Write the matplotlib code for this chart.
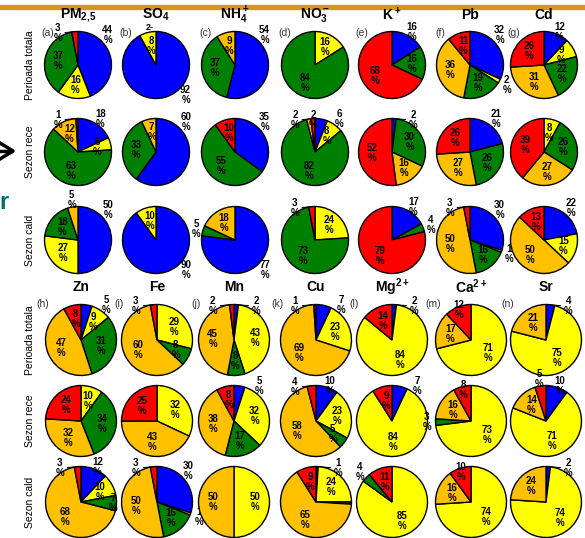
import numpy as np
import matplotlib.pyplot as plt

plt.rcParams['font.family'] = ['Liberation Sans', 'DejaVu Sans']
plt.rcParams['mathtext.fontset'] = 'custom'
plt.rcParams['mathtext.rm'] = 'Liberation Sans'
plt.rcParams['mathtext.bf'] = 'Liberation Sans:bold'
plt.rcParams['mathtext.default'] = 'bf'

W, H = 585, 538

# ordinea feliilor (sens orar de la ora 12): albastru, galben, verde, portocaliu, rosu
colors = ['#0000FF', '#FFFF00', '#008000', '#FFC000', '#FF0000']
rows = ['Perioada totala', 'Sezon rece', 'Sezon cald']

# --blocul de sus--
top_titles = ['PM$_{2{,}5}$', 'SO$_4$', 'NH$_4^+$', 'NO$_3^-$', 'K$^+$', 'Pb', 'Cd']
top_letters = ['(a)', '(b)', '(c)', '(d)', '(e)', '(f)', '(g)']
pm25 = [[44, 16, 37, 0, 3], [18, 6, 63, 12, 1], [50, 27, 18, 5, 0]]
so4 = [[92, 8, 0, 0, 0], [60, 0, 33, 7, 0], [90, 10, 0, 0, 0]]
nh4 = [[54, 0, 37, 9, 0], [35, 0, 55, 0, 10], [77, 0, 5, 18, 0]]
no3 = [[0, 16, 84, 0, 0], [6, 8, 82, 2, 2], [0, 24, 73, 0, 3]]
k = [[16, 0, 16, 0, 68], [2, 0, 30, 16, 52], [17, 0, 4, 0, 79]]
pb = [[32, 2, 19, 36, 11], [21, 0, 26, 27, 26], [30, 1, 16, 50, 3]]
cd = [[12, 9, 22, 31, 26], [0, 8, 26, 27, 39], [22, 15, 0, 50, 13]]
top_data = [pm25, so4, nh4, no3, k, pb, cd]

# --blocul de jos--
bot_titles = ['Zn', 'Fe', 'Mn', 'Cu', 'Mg$^{2+}$', 'Ca$^{2+}$', 'Sr']
bot_letters = ['(h)', '(i)', '(j)', '(k)', '(l)', '(m)', '(n)']
zn = [[5, 9, 31, 47, 8], [0, 10, 34, 32, 24], [12, 10, 7, 68, 3]]
fe = [[0, 29, 8, 60, 3], [0, 32, 0, 43, 25], [30, 1, 16, 50, 3]]
mn = [[2, 43, 8, 45, 2], [5, 32, 17, 38, 8], [0, 50, 0, 50, 0]]
cu = [[7, 23, 0, 69, 1], [10, 23, 5, 58, 4], [1, 24, 1, 65, 9]]
mg = [[2, 84, 0, 0, 14], [7, 84, 0, 0, 9], [0, 85, 4, 0, 11]]
ca = [[0, 71, 0, 17, 12], [0, 73, 3, 16, 8], [0, 74, 0, 16, 10]]
sr = [[4, 75, 0, 21, 0], [10, 71, 0, 14, 5], [2, 74, 0, 24, 0]]
bot_data = [zn, fe, mn, cu, mg, ca, sr]

fig = plt.figure(figsize=(W / 100, H / 100), dpi=100)


def fx(x):
    return x / W


def fy(y):
    return 1 - y / H


def draw_pie(cx, cy, r, vals):
    m = 1.6
    ax = fig.add_axes([fx(cx - m * r), fy(cy + m * r), 2 * m * r / W, 2 * m * r / H])
    v = [x for x in vals if x > 0]
    c = [col for x, col in zip(vals, colors) if x > 0]
    idx = [i for i, x in enumerate(vals) if x > 0]
    wedges, _ = ax.pie(v, colors=c, startangle=90, counterclock=False,
                       wedgeprops=dict(edgecolor='black', linewidth=1))
    ax.set_xlim(-m, m)
    ax.set_ylim(-m, m)
    ax.axis('off')
    labels = []
    outs = []
    ins = []
    for w, val, i in zip(wedges, v, idx):
        mid = (w.theta1 + w.theta2) / 2
        if mid > 180:
            mid -= 360
        a = np.deg2rad(mid)
        edge = (np.cos(a), np.sin(a))
        if val < 5:
            ang = np.deg2rad(60) if i == 0 else a
            pos = [1.25 * np.cos(ang), 1.25 * np.sin(ang)]
            if pos[1] > 0.95:
                pos[1] = 0.95
                pos[0] = np.sign(pos[0]) * max(abs(pos[0]), 0.6)
            outs.append(pos)
        elif i == 0:
            # eticheta albastra in afara, sus-dreapta sau jos-dreapta
            if val >= 75:
                ang = -45
            elif val < 10:
                ang = 55
            else:
                ang = max(mid, 45)
            ang = np.deg2rad(ang)
            pos = [1.25 * np.cos(ang), min(1.25 * np.sin(ang), 0.98)]
            outs.append(pos)
            edge = None
        else:
            pos = [0.6 * np.cos(a), 0.6 * np.sin(a)]
            ins.append([pos, a, val])
            edge = None
        labels.append([pos, val, edge])
    # etichete interioare suprapuse: cea mai mica se muta spre margine
    for p, q in zip(ins[:-1], ins[1:]):
        if abs(q[0][0] - p[0][0]) < 0.4 and abs(q[0][1] - p[0][1]) < 0.42:
            s = p if p[2] < q[2] else q
            rr = 0.9 if s[2] >= 6 else 1.2
            s[0][0], s[0][1] = rr * np.cos(s[1]), rr * np.sin(s[1])
    # departeaza etichetele exterioare care se suprapun
    outs.sort(key=lambda p: p[0])
    for p, q in zip(outs[:-1], outs[1:]):
        if abs(q[1] - p[1]) < 0.5 and q[0] - p[0] < 0.55:
            q[0] = p[0] + 0.55
    for pos, val, edge in labels:
        ax.text(pos[0], pos[1], f'{val}\n%', ha='center', va='center',
                fontsize=7, fontweight='bold', linespacing=1.0, clip_on=False)
        if edge is not None:
            d = np.hypot(pos[0] - edge[0], pos[1] - edge[1])
            if d > 0.3:
                t = (d - 0.22) / d
                ex = edge[0] + t * (pos[0] - edge[0])
                ey = edge[1] + t * (pos[1] - edge[1])
                ax.plot([edge[0], ex], [edge[1], ey], color='black', lw=0.7, clip_on=False)
    return ax


xs = [78, 156, 235, 315, 392, 470, 544]

# blocul de sus
ys_top = [65, 152, 240]
for j in range(7):
    fig.text(fx(xs[j]), fy(15), top_titles[j], ha='center', va='center',
             fontsize=10, fontweight='bold')
    fig.text(fx(xs[j] - 30), fy(ys_top[0] - 32), top_letters[j], ha='center', va='center',
             fontsize=7.5, color='#333333')
    for i in range(3):
        draw_pie(xs[j], ys_top[i], 33.5, top_data[j][i])
for i in range(3):
    fig.text(fx(30), fy(ys_top[i]), rows[i], rotation=90, ha='center', va='center', fontsize=7.5)
fig.text(fx(150), fy(27), '2-', ha='center', va='center', fontsize=6.5, fontweight='bold')

# blocul de jos
xs_b = [81, 157, 234, 316, 392, 471, 546]
ys_bot = [340, 421, 502]
for j in range(7):
    fig.text(fx(xs_b[j]), fy(287), bot_titles[j], ha='center', va='center',
             fontsize=10, fontweight='bold')
    fig.text(fx(xs_b[j] - 38), fy(ys_bot[0] - 36), bot_letters[j], ha='center', va='center',
             fontsize=7.5, color='#333333')
    for i in range(3):
        draw_pie(xs_b[j], ys_bot[i], 35.5, bot_data[j][i])
for i in range(3):
    fig.text(fx(30), fy(ys_bot[i]), rows[i], rotation=90, ha='center', va='center', fontsize=7.5)

# resturi de pe slide: bara aurie, sageata, litera
fig.add_artist(plt.Rectangle((0, fy(9)), 1, 4 / H, color='#D09A12', transform=fig.transFigure))
fig.add_artist(plt.Line2D([fx(0), fx(13), fx(0)], [fy(143), fy(151), fy(159)], color='black',
                          lw=2.5, transform=fig.transFigure))
fig.add_artist(plt.Line2D([fx(0), fx(11)], [fy(151), fy(151)], color='black',
                          lw=2.5, transform=fig.transFigure))
fig.text(fx(-1), fy(203), 'r', ha='left', va='center', fontsize=17, fontweight='bold', color='#006F6F')

fig.savefig('out.png', dpi=100)
